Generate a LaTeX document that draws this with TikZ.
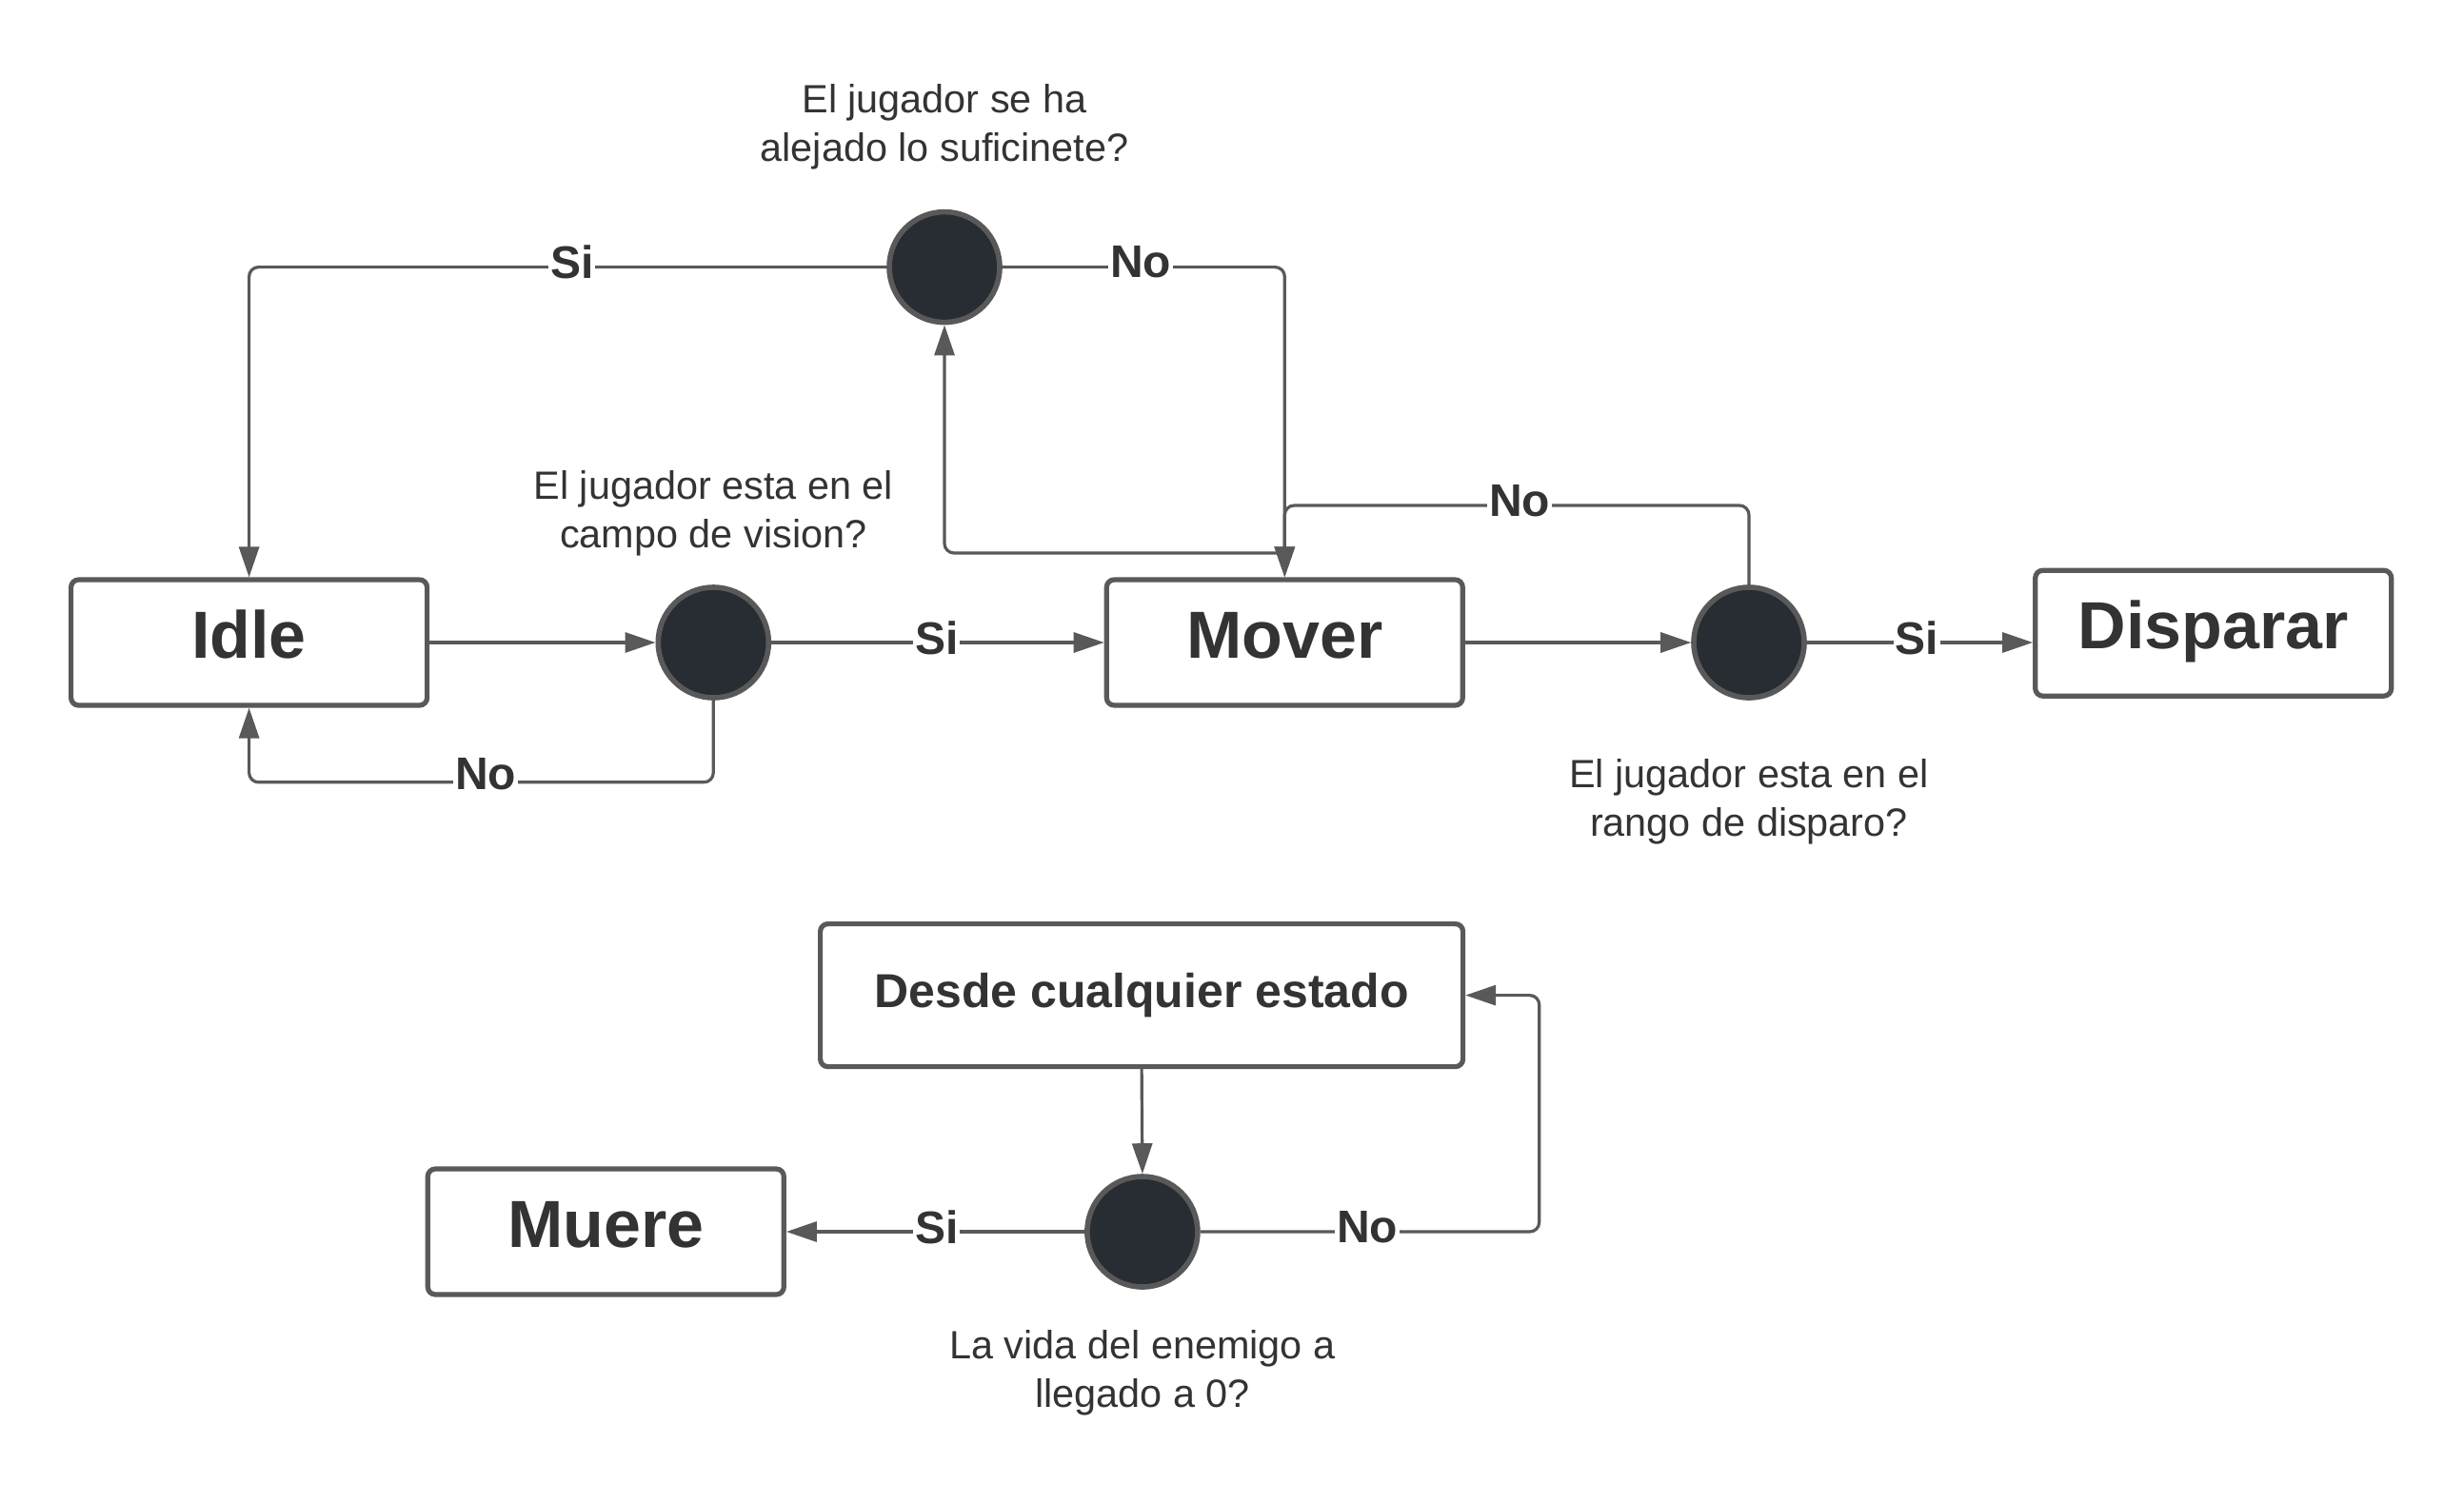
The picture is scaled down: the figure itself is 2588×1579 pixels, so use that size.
\documentclass[tikz,border=0pt]{standalone}
\usepackage{fontspec}
\setmainfont{Liberation Sans}
\usetikzlibrary{arrows.meta,calc}
\definecolor{txt}{HTML}{333333}
\definecolor{ln}{HTML}{595959}
\definecolor{dot}{HTML}{282C33}
\begin{document}
\begin{tikzpicture}[x=0.5pt,y=-0.5pt,
 statebox/.style={draw=ln,line width=2.6pt,rounded corners=4pt,fill=white,text=txt,font=\fontsize{35}{42}\selectfont\bfseries,minimum width=187pt,minimum height=66pt,inner sep=0pt,text height=25pt,text depth=8.5pt},
 dec/.style={circle,draw=ln,fill=dot,line width=2.8pt,minimum size=58pt,inner sep=0pt},
 conn/.style={draw=ln,line width=1.6pt,rounded corners=5pt,-{Triangle[length=16pt,width=10.5pt]}},
 lab/.style={fill=white,text=txt,font=\fontsize{24}{28}\selectfont\bfseries,inner sep=1pt},
 note/.style={text=txt,font=\fontsize{20.7}{25.6}\selectfont,align=center}]
\useasboundingbox[fill=white] (0,0) rectangle (2588,1579);

\node[statebox] (idle) at (261.6,675) {Idle};
\node[dec] (c1) at (749.3,675) {};
\node[statebox] (mover) at (1349.3,675) {Mover};
\node[dec] (c3) at (1837,675) {};
\node[statebox] (disp) at (2324.7,665.2) {Disparar};
\node[dec] (c2) at (992,280.6) {};
\node[statebox,minimum width=337.5pt,minimum height=75pt,text height=18pt,text depth=5pt,font=\fontsize{25}{30}\selectfont\bfseries] (desde) at (1199.1,1045.6) {Desde cualquier estado};
\node[dec] (c4) at (1199.9,1294) {};
\node[statebox] (muere) at (636.3,1294) {Muere};

\node[note] (n2) at (992,133) {El jugador se ha\\alejado lo suficinete?};
\node[note] (n1) at (749.3,539) {El jugador esta en el\\campo de vision?};
\node[note] (n3) at (1837,842.5) {El jugador esta en el\\rango de disparo?};
\node[note] (n4) at (1200,1442) {La vida del enemigo a\\llegado a 0?};

\coordinate (mj) at (1349.3,581);
\coordinate (nj) at (1349.3,531);

\draw[conn] (idle.east) -- (c1.west);
\draw[conn] (c1.east) -- (mover.west);
\draw[conn] (c1.south) -- ++(0,86) -| (idle.south);
\draw[conn] (c2.west) -| (idle.north);
\draw[conn] (c2.east) -| (mover.north);
\draw[conn] (mj) -| (c2.south);
\draw[conn] (c3.north) |- (nj) -- (mover.north);
\draw[conn] (mover.east) -- (c3.west);
\draw[conn] (c3.east) -- (c3.east -| disp.west);
\draw[conn] (desde.south) -- (c4.north);
\draw[conn] (c4.west) -- (muere.east);
\draw[conn] (c4.east) -- ++(356,0) |- (desde.east);

\node[lab] (l1) at (600.8,275) {Si};
\node[lab] (l2) at (1198,275) {No};
\node[lab] (l3) at (983.7,670) {Si};
\node[lab] (l4) at (510,813) {No};
\node[lab] (l5) at (1596,526) {No};
\node[lab] (l6) at (2013.6,670) {Si};
\node[lab] (l7) at (983.7,1289) {Si};
\node[lab] (l8) at (1436,1289) {No};
\end{tikzpicture}
\end{document}
